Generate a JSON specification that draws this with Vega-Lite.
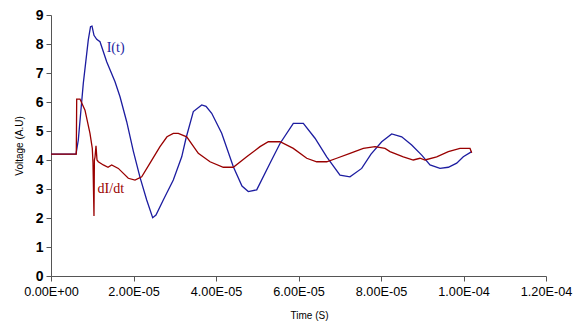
{
  "$schema": "https://vega.github.io/schema/vega-lite/v6.json",
  "width": 495,
  "height": 261,
  "autosize": "none",
  "padding": {"left": 51, "top": 15, "right": 30, "bottom": 52},
  "background": "white",
  "config": {"view": {"stroke": null}, "font": "Liberation Sans"},
  "datasets": {
    "curves": [
      {"series": "I(t)", "t": 0, "v": 4.2},
      {"series": "I(t)", "t": 6.06e-6, "v": 4.2},
      {"series": "I(t)", "t": 6.62e-6, "v": 4.69},
      {"series": "I(t)", "t": 7.83e-6, "v": 6.64},
      {"series": "I(t)", "t": 9.04e-6, "v": 8.14},
      {"series": "I(t)", "t": 9.58e-6, "v": 8.6},
      {"series": "I(t)", "t": 9.94e-6, "v": 8.62},
      {"series": "I(t)", "t": 1.042e-5, "v": 8.3},
      {"series": "I(t)", "t": 1.108e-5, "v": 8.16},
      {"series": "I(t)", "t": 1.188e-5, "v": 8.08},
      {"series": "I(t)", "t": 1.35e-5, "v": 7.39},
      {"series": "I(t)", "t": 1.552e-5, "v": 6.7},
      {"series": "I(t)", "t": 1.673e-5, "v": 6.18},
      {"series": "I(t)", "t": 1.835e-5, "v": 5.32},
      {"series": "I(t)", "t": 1.997e-5, "v": 4.3},
      {"series": "I(t)", "t": 2.158e-5, "v": 3.4},
      {"series": "I(t)", "t": 2.32e-5, "v": 2.62},
      {"series": "I(t)", "t": 2.465e-5, "v": 2.01},
      {"series": "I(t)", "t": 2.545e-5, "v": 2.1},
      {"series": "I(t)", "t": 2.722e-5, "v": 2.62},
      {"series": "I(t)", "t": 2.965e-5, "v": 3.31},
      {"series": "I(t)", "t": 3.169e-5, "v": 4.11},
      {"series": "I(t)", "t": 3.273e-5, "v": 4.75},
      {"series": "I(t)", "t": 3.45e-5, "v": 5.67},
      {"series": "I(t)", "t": 3.654e-5, "v": 5.9},
      {"series": "I(t)", "t": 3.758e-5, "v": 5.85},
      {"series": "I(t)", "t": 3.896e-5, "v": 5.61},
      {"series": "I(t)", "t": 4.138e-5, "v": 4.92},
      {"series": "I(t)", "t": 4.42e-5, "v": 3.77},
      {"series": "I(t)", "t": 4.63e-5, "v": 3.1},
      {"series": "I(t)", "t": 4.783e-5, "v": 2.91},
      {"series": "I(t)", "t": 4.987e-5, "v": 2.97},
      {"series": "I(t)", "t": 5.309e-5, "v": 3.89},
      {"series": "I(t)", "t": 5.552e-5, "v": 4.57},
      {"series": "I(t)", "t": 5.874e-5, "v": 5.26},
      {"series": "I(t)", "t": 6.117e-5, "v": 5.26},
      {"series": "I(t)", "t": 6.4e-5, "v": 4.75},
      {"series": "I(t)", "t": 6.684e-5, "v": 4.11},
      {"series": "I(t)", "t": 7.006e-5, "v": 3.48},
      {"series": "I(t)", "t": 7.248e-5, "v": 3.42},
      {"series": "I(t)", "t": 7.532e-5, "v": 3.71},
      {"series": "I(t)", "t": 7.758e-5, "v": 4.2},
      {"series": "I(t)", "t": 8.017e-5, "v": 4.63},
      {"series": "I(t)", "t": 8.259e-5, "v": 4.9},
      {"series": "I(t)", "t": 8.502e-5, "v": 4.8},
      {"series": "I(t)", "t": 8.744e-5, "v": 4.52},
      {"series": "I(t)", "t": 8.987e-5, "v": 4.17},
      {"series": "I(t)", "t": 9.188e-5, "v": 3.83},
      {"series": "I(t)", "t": 9.43e-5, "v": 3.71},
      {"series": "I(t)", "t": 9.632e-5, "v": 3.75},
      {"series": "I(t)", "t": 9.835e-5, "v": 3.89},
      {"series": "I(t)", "t": 9.995e-5, "v": 4.11},
      {"series": "I(t)", "t": 1.0199e-4, "v": 4.29},
      {"series": "dI/dt", "t": 0, "v": 4.2},
      {"series": "dI/dt", "t": 6.13e-6, "v": 4.2},
      {"series": "dI/dt", "t": 6.23e-6, "v": 6.1},
      {"series": "dI/dt", "t": 7.03e-6, "v": 6.1},
      {"series": "dI/dt", "t": 8.24e-6, "v": 5.72},
      {"series": "dI/dt", "t": 9.45e-6, "v": 4.92},
      {"series": "dI/dt", "t": 1.001e-5, "v": 4.4},
      {"series": "dI/dt", "t": 1.018e-5, "v": 3.9},
      {"series": "dI/dt", "t": 1.042e-5, "v": 2.07},
      {"series": "dI/dt", "t": 1.052e-5, "v": 4.0},
      {"series": "dI/dt", "t": 1.067e-5, "v": 4.1},
      {"series": "dI/dt", "t": 1.091e-5, "v": 4.49},
      {"series": "dI/dt", "t": 1.115e-5, "v": 4.0},
      {"series": "dI/dt", "t": 1.147e-5, "v": 3.94},
      {"series": "dI/dt", "t": 1.268e-5, "v": 3.83},
      {"series": "dI/dt", "t": 1.382e-5, "v": 3.75},
      {"series": "dI/dt", "t": 1.471e-5, "v": 3.83},
      {"series": "dI/dt", "t": 1.632e-5, "v": 3.71},
      {"series": "dI/dt", "t": 1.874e-5, "v": 3.37},
      {"series": "dI/dt", "t": 2.036e-5, "v": 3.31},
      {"series": "dI/dt", "t": 2.199e-5, "v": 3.42},
      {"series": "dI/dt", "t": 2.4e-5, "v": 3.89},
      {"series": "dI/dt", "t": 2.642e-5, "v": 4.46},
      {"series": "dI/dt", "t": 2.812e-5, "v": 4.8},
      {"series": "dI/dt", "t": 2.965e-5, "v": 4.92},
      {"series": "dI/dt", "t": 3.086e-5, "v": 4.92},
      {"series": "dI/dt", "t": 3.29e-5, "v": 4.8},
      {"series": "dI/dt", "t": 3.571e-5, "v": 4.23},
      {"series": "dI/dt", "t": 3.855e-5, "v": 3.94},
      {"series": "dI/dt", "t": 4.177e-5, "v": 3.75},
      {"series": "dI/dt", "t": 4.42e-5, "v": 3.75},
      {"series": "dI/dt", "t": 4.744e-5, "v": 4.11},
      {"series": "dI/dt", "t": 5.067e-5, "v": 4.46},
      {"series": "dI/dt", "t": 5.268e-5, "v": 4.63},
      {"series": "dI/dt", "t": 5.552e-5, "v": 4.63},
      {"series": "dI/dt", "t": 5.874e-5, "v": 4.4},
      {"series": "dI/dt", "t": 6.199e-5, "v": 4.06},
      {"series": "dI/dt", "t": 6.441e-5, "v": 3.94},
      {"series": "dI/dt", "t": 6.684e-5, "v": 3.94},
      {"series": "dI/dt", "t": 6.926e-5, "v": 4.06},
      {"series": "dI/dt", "t": 7.248e-5, "v": 4.23},
      {"series": "dI/dt", "t": 7.571e-5, "v": 4.4},
      {"series": "dI/dt", "t": 7.855e-5, "v": 4.46},
      {"series": "dI/dt", "t": 8.097e-5, "v": 4.4},
      {"series": "dI/dt", "t": 8.218e-5, "v": 4.29},
      {"series": "dI/dt", "t": 8.541e-5, "v": 4.11},
      {"series": "dI/dt", "t": 8.783e-5, "v": 4.0},
      {"series": "dI/dt", "t": 8.945e-5, "v": 4.06},
      {"series": "dI/dt", "t": 9.067e-5, "v": 4.0},
      {"series": "dI/dt", "t": 9.35e-5, "v": 4.11},
      {"series": "dI/dt", "t": 9.632e-5, "v": 4.29},
      {"series": "dI/dt", "t": 9.915e-5, "v": 4.4},
      {"series": "dI/dt", "t": 1.0158e-4, "v": 4.4},
      {"series": "dI/dt", "t": 1.0199e-4, "v": 4.25}
    ],
    "labels": [
      {"series": "I(t)", "t": 1.35e-5, "v": 7.86},
      {"series": "dI/dt", "t": 1.13e-5, "v": 2.99}
    ]
  },
  "encoding": {
    "x": {
      "field": "t", "type": "quantitative",
      "scale": {"domain": [0, 0.00012], "nice": false, "zero": false},
      "axis": {
        "title": "Time (S)",
        "values": [0, 0.00002, 0.00004, 0.00006, 0.00008, 0.0001, 0.00012],
        "labelExpr": "datum.value == 0 ? '0.00E+00' : (datum.value < 9.99e-5 ? format(datum.value*1e5, '.2f') + 'E-05' : format(datum.value*1e4, '.2f') + 'E-04')",
        "labelOverlap": false,
        "grid": false,
        "domainColor": "#555555",
        "tickColor": "#555555",
        "tickSize": 5,
        "labelFontSize": 12.7,
        "labelColor": "black",
        "labelPadding": 4,
        "labelFlush": false,
        "titleFontSize": 10,
        "titleFontWeight": "normal",
        "titleColor": "black",
        "titlePadding": 13,
        "titleX": 258
      }
    },
    "y": {
      "field": "v", "type": "quantitative",
      "scale": {"domain": [0, 9], "nice": false},
      "axis": {
        "title": "Voltage (A.U)",
        "values": [0, 1, 2, 3, 4, 5, 6, 7, 8, 9],
        "tickCount": 10,
        "labelOverlap": false,
        "grid": false,
        "domainColor": "#555555",
        "tickColor": "#555555",
        "tickSize": 5,
        "labelFontSize": 14,
        "labelFontWeight": "bold",
        "labelColor": "black",
        "labelPadding": 3,
        "titleFontSize": 10,
        "titleFontWeight": "normal",
        "titleColor": "black",
        "titlePadding": 11
      }
    },
    "color": {
      "field": "series", "type": "nominal",
      "scale": {"domain": ["I(t)", "dI/dt"], "range": ["#1c1ca0", "#990000"]},
      "legend": null
    }
  },
  "layer": [
    {
      "data": {"name": "curves"},
      "mark": {"type": "line", "strokeWidth": 1.3}
    },
    {
      "data": {"name": "labels"},
      "mark": {"type": "text", "align": "left", "baseline": "middle", "font": "Liberation Serif", "fontSize": 14},
      "encoding": {
        "text": {"field": "series"}
      }
    }
  ]
}
